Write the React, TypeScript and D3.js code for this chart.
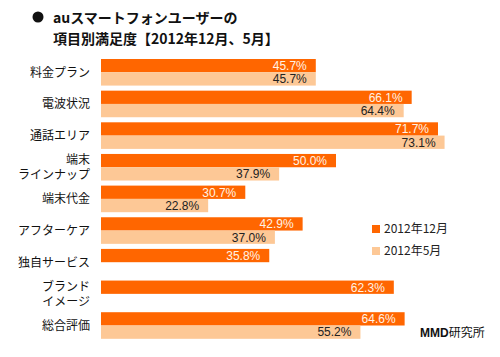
import React from "react";
import * as d3 from "d3";

const categories = ["料金プラン", "電波状況", "通話エリア", "端末\nラインナップ", "端末代金", "アフターケア", "独自サービス", "ブランド\nイメージ", "総合評価"];
const seriesNames = ["2012年12月", "2012年5月"];
const decValues: (number | null)[] = [45.7, 66.1, 71.7, 50.0, 30.7, 42.9, 35.8, 62.3, 64.6];
const mayValues: (number | null)[] = [45.7, 64.4, 73.1, 37.9, 22.8, 37.0, null, null, 55.2];
const colors = ["#ff6600", "#fdc896"];
const labelColors = ["#fff3e6", "#222222"];

const W = 500, H = 357;
const JP = "'Noto Sans CJK JP', 'Noto Sans', sans-serif";
const NUM = "'Liberation Sans', Arial, sans-serif";

export default function App() {
  const x = d3.scaleLinear().domain([0, 100]).range([101, 571]);
  const y0 = d3.scaleBand<string>().domain(categories).range([59, 338.8]).paddingInner(0.16).paddingOuter(0);
  const y1 = d3.scaleBand<string>().domain(seriesNames).range([0, y0.bandwidth()]);
  const series = [decValues, mayValues];

  return (
    <svg width={W} height={H} style={{ position: "absolute", left: 0, top: 0, background: "#fff" }}>
      <rect width={W} height={H} fill="#fff" />
      <circle cx={38} cy={17} r={5.5} fill="#111" />
      <text x={53} y={23} fontFamily={JP} fontWeight="bold" fontSize={14} fill="#111">auスマートフォンユーザーの</text>
      <text x={53} y={44} fontFamily={JP} fontWeight="bold" fontSize={14} fill="#111">項目別満足度【2012年12月、5月】</text>

      {categories.map((c, i) => {
        const yc = (y0(c) as number) + y0.bandwidth() / 2;
        const lines = c.split("\n");
        return lines.map((l, j) => (
          <text key={c + j} x={90} y={yc + (j - (lines.length - 1) / 2) * 15} dy="0.36em" textAnchor="end" fontFamily={JP} fontSize={12} fill="#111">{l}</text>
        ));
      })}

      {series.map((vals, si) =>
        vals.map((v, i) => {
          if (v == null) return null;
          const c = categories[i];
          const yt = (y0(c) as number) + (y1(seriesNames[si]) as number);
          const h = y1.bandwidth();
          return (
            <g key={si + "-" + i}>
              <rect x={x(0)} y={yt} width={x(v) - x(0)} height={h} fill={colors[si]} />
              <text x={x(v) - 9} y={yt + h / 2} dy="0.36em" textAnchor="end" fontFamily={NUM} fontSize={12} fill={labelColors[si]}>
                {v.toFixed(1)}%
              </text>
            </g>
          );
        })
      )}

      {seriesNames.map((s, i) => (
        <g key={s}>
          <rect x={372} y={225 + i * 22} width={8} height={8} fill={colors[i]} />
          <text x={384} y={233 + i * 22} fontFamily={JP} fontSize={12} fill="#222">{s}</text>
        </g>
      ))}

      <text x={420} y={337} fontFamily={JP} fontSize={12} fill="#111">
        <tspan fontFamily={NUM} fontWeight="bold">MMD</tspan>
        <tspan>研究所</tspan>
      </text>
    </svg>
  );
}
